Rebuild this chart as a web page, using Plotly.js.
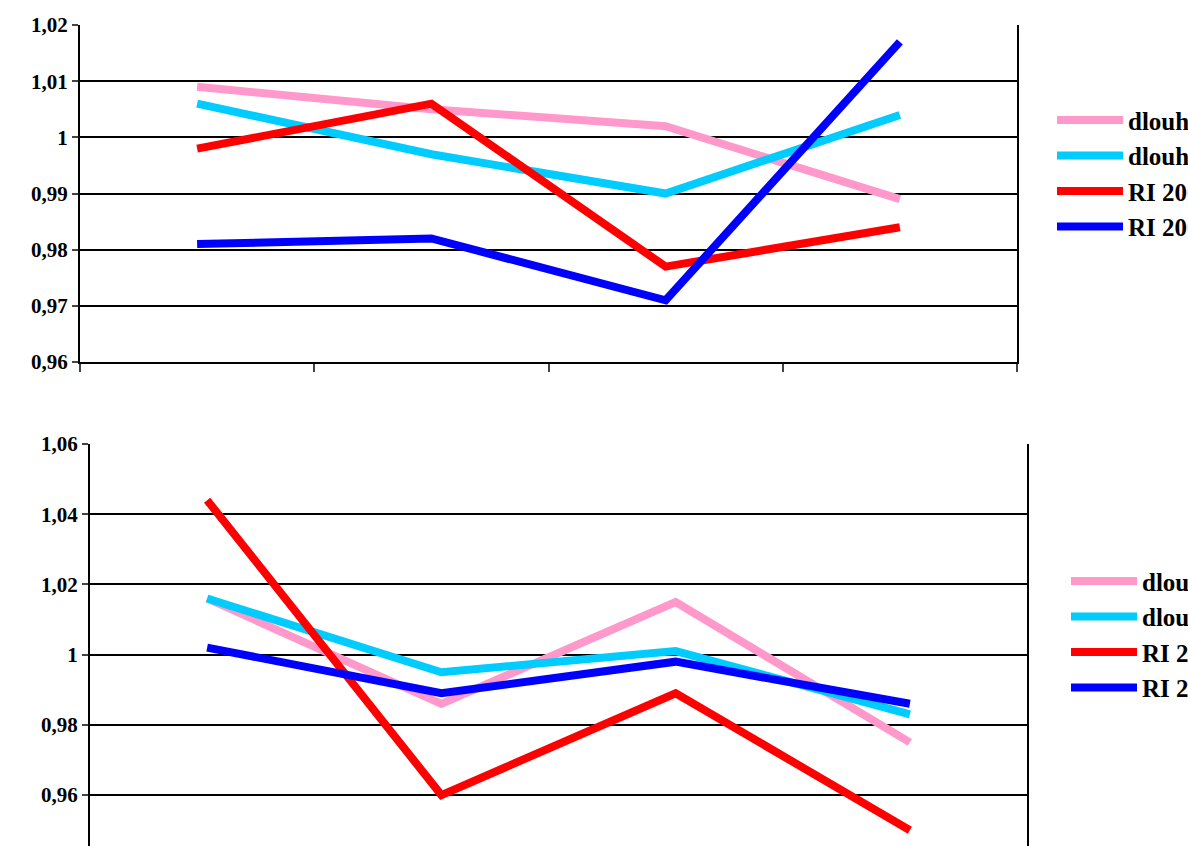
<!DOCTYPE html>
<html>
<head>
<meta charset="utf-8">
<script src="https://cdn.plot.ly/plotly-3.0.1.min.js"></script>
<style>html,body{margin:0;background:#fff;overflow:hidden}#chart{width:1500px;height:846px}</style>
</head>
<body>
<div id="chart"></div>
<script>
let categories = [0.5, 1.5, 2.5, 3.5];
let names = ["dlouhodobé 1", "dlouhodobé 2", "RI 2001", "RI 2002"];
let colors = ["#FF99CC", "#00CCFF", "#FF0000", "#0000FF"];

let top_pink = [1.009, 1.005, 1.002, 0.989];
let top_cyan = [1.006, 0.997, 0.990, 1.004];
let top_red = [0.998, 1.006, 0.977, 0.984];
let top_blue = [0.981, 0.982, 0.971, 1.017];

let bottom_pink = [1.016, 0.986, 1.015, 0.975];
let bottom_cyan = [1.016, 0.995, 1.001, 0.983];
let bottom_red = [1.044, 0.960, 0.989, 0.950];
let bottom_blue = [1.002, 0.989, 0.998, 0.986];

let top_ticks = [0.96, 0.97, 0.98, 0.99, 1, 1.01, 1.02];
let top_labels = ["0,96", "0,97", "0,98", "0,99", "1", "1,01", "1,02"];
let bottom_ticks = [0.96, 0.98, 1, 1.02, 1.04, 1.06];
let bottom_labels = ["0,96", "0,98", "1", "1,02", "1,04", "1,06"];

let W = 1500;
let font = { family: "Liberation Serif, Times New Roman, serif", size: 21, color: "#000" };

let data = [];
[top_pink, top_cyan, top_red, top_blue].forEach(function (ys, i) {
    data.push({ x: categories, y: ys, mode: 'lines', name: names[i], xaxis: 'x', yaxis: 'y',
        line: { color: colors[i], width: 8 }, legend: 'legend' });
});
[bottom_pink, bottom_cyan, bottom_red, bottom_blue].forEach(function (ys, i) {
    data.push({ x: categories, y: ys, mode: 'lines', name: names[i], xaxis: 'x2', yaxis: 'y2',
        line: { color: colors[i], width: 8 }, legend: 'legend2' });
});

let axisX = { range: [0, 4], tickvals: [0, 1, 2, 3, 4], showticklabels: false, ticks: 'outside',
    ticklen: 8, tickwidth: 2, showgrid: false, zeroline: false, showline: true, linewidth: 2, linecolor: '#000' };
let tickfont = { family: font.family, size: 21, color: '#000', weight: 'bold' };
let legfont = { family: font.family, size: 25, color: '#000', weight: 'bold' };

let layout = {
    width: W, height: 846, margin: { l: 0, r: 0, t: 0, b: 0 },
    paper_bgcolor: '#fff', plot_bgcolor: '#fff', font: font,
    xaxis: Object.assign({}, axisX, { domain: [80 / W, 1017 / W], anchor: 'y' }),
    yaxis: { domain: [0.572, 0.9704], range: [0.96, 1.02], tickvals: top_ticks, ticktext: top_labels,
        showgrid: true, gridcolor: '#000', gridwidth: 2, zeroline: false, showline: true, mirror: true,
        linewidth: 2, linecolor: '#000', ticks: 'outside', ticklen: 6, tickwidth: 2, anchor: 'x', tickfont: tickfont },
    xaxis2: Object.assign({}, axisX, { domain: [90 / W, 1027 / W], anchor: 'y2' }),
    yaxis2: { domain: [0, 0.4752], range: [0.9455, 1.06], tickvals: bottom_ticks, ticktext: bottom_labels,
        showgrid: true, gridcolor: '#000', gridwidth: 2, zeroline: false, showline: true, mirror: true,
        linewidth: 2, linecolor: '#000', ticks: 'outside', ticklen: 6, tickwidth: 2, anchor: 'x2', tickfont: tickfont },
    legend: { x: 1052 / W, y: 0.885, xanchor: 'left', yanchor: 'top', bgcolor: 'rgba(0,0,0,0)',
        font: legfont, tracegroupgap: 0, itemwidth: 66 },
    legend2: { x: 1066 / W, y: 0.34, xanchor: 'left', yanchor: 'top', bgcolor: 'rgba(0,0,0,0)',
        font: legfont, tracegroupgap: 0, itemwidth: 66 }
};

Plotly.newPlot('chart', data, layout, { displayModeBar: false, staticPlot: true });
</script>
</body>
</html>
